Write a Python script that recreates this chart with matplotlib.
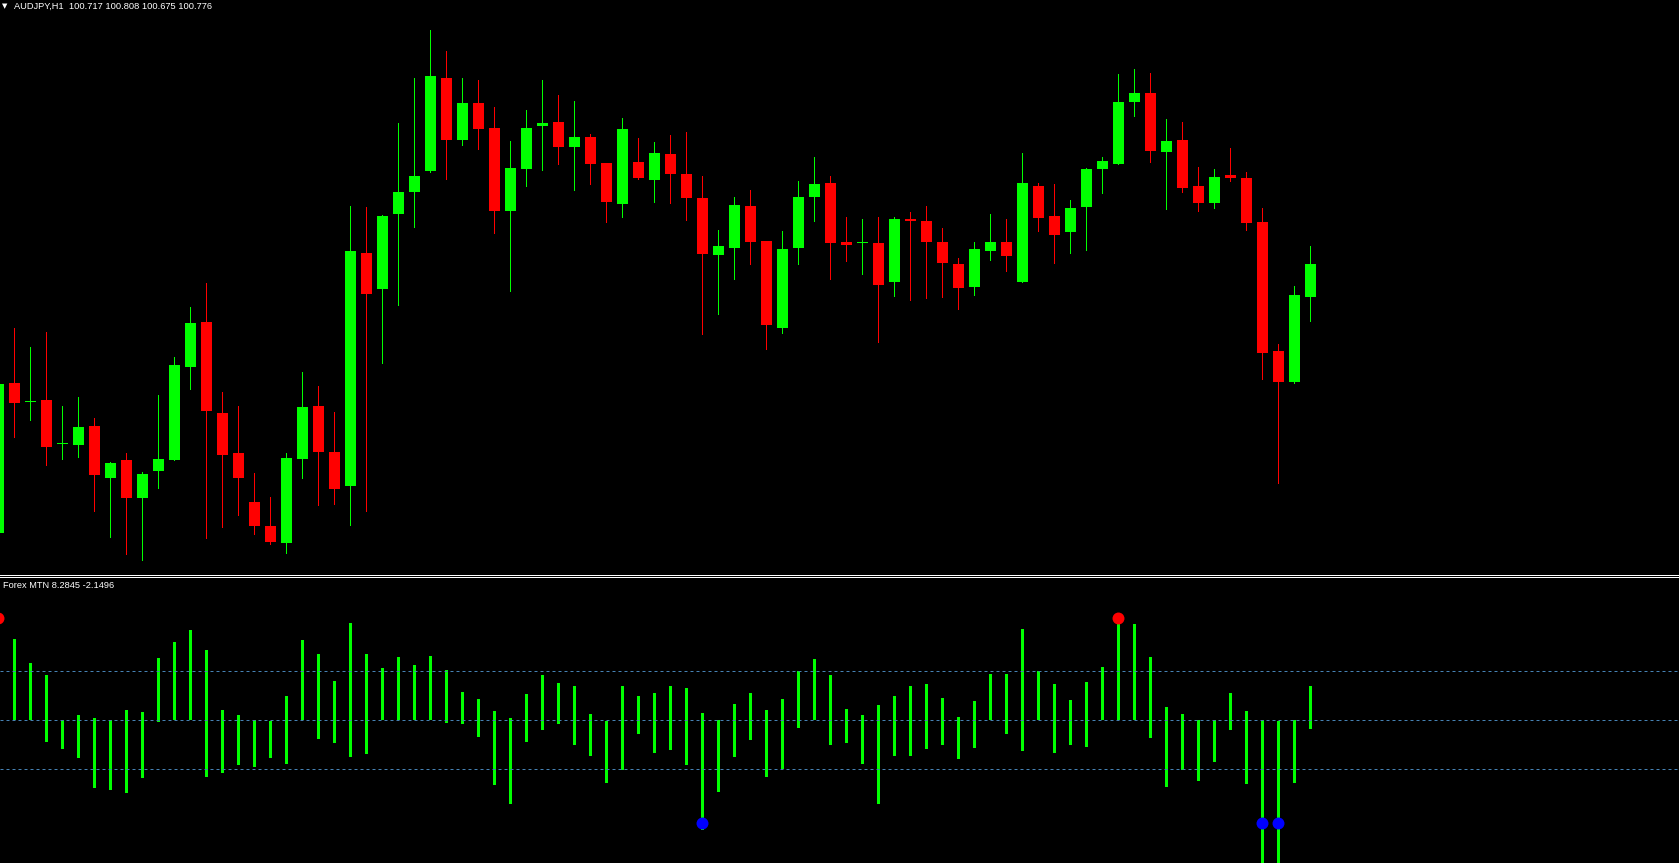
import numpy as np
import matplotlib
matplotlib.use("Agg")
import matplotlib.pyplot as plt
from matplotlib.lines import Line2D

# AUDJPY H1 candles
opens = [100.300, 100.565, 100.532, 100.535, 100.457, 100.455, 100.489, 100.397, 100.429, 100.362,
         100.409, 100.429, 100.593, 100.673, 100.512, 100.441, 100.355, 100.312, 100.282, 100.431,
         100.524, 100.443, 100.383, 100.795, 100.732, 100.865, 100.904, 100.940, 101.105, 100.995,
         101.061, 101.017, 100.870, 100.944, 101.020, 101.027, 100.983, 101.001, 100.955, 100.882,
         100.956, 100.924, 100.970, 100.935, 100.893, 100.792, 100.804, 100.878, 100.817, 100.663,
         100.804, 100.894, 100.919, 100.815, 100.814, 100.813, 100.744, 100.855, 100.852, 100.815,
         100.776, 100.735, 100.799, 100.815, 100.744, 100.914, 100.861, 100.832, 100.877, 100.944,
         100.953, 101.062, 101.078, 100.974, 100.995, 100.914, 100.884, 100.933, 100.928, 100.850,
         100.622, 100.567, 100.717]
highs = [100.569, 100.663, 100.629, 100.655, 100.524, 100.540, 100.503, 100.425, 100.441, 100.408,
         100.544, 100.611, 100.700, 100.742, 100.549, 100.524, 100.406, 100.363, 100.441, 100.585,
         100.560, 100.514, 100.878, 100.877, 100.862, 101.025, 101.105, 101.190, 101.153, 101.105,
         101.101, 101.054, 100.993, 101.048, 101.101, 101.075, 101.064, 101.006, 100.955, 101.034,
         100.999, 100.992, 101.004, 101.009, 100.931, 100.836, 100.894, 100.907, 100.817, 100.834,
         100.923, 100.965, 100.931, 100.859, 100.855, 100.859, 100.859, 100.868, 100.878, 100.840,
         100.786, 100.815, 100.864, 100.855, 100.972, 100.919, 100.917, 100.889, 100.946, 100.965,
         101.112, 101.121, 101.114, 101.032, 101.027, 100.947, 100.944, 100.981, 100.939, 100.875,
         100.634, 100.737, 100.808]
lows = [100.294, 100.470, 100.500, 100.420, 100.431, 100.434, 100.339, 100.293, 100.263, 100.252,
        100.380, 100.428, 100.555, 100.290, 100.311, 100.332, 100.298, 100.280, 100.264, 100.397,
        100.349, 100.351, 100.314, 100.339, 100.601, 100.703, 100.842, 100.939, 100.926, 100.986,
        100.979, 100.831, 100.728, 100.914, 100.942, 100.953, 100.907, 100.917, 100.850, 100.859,
        100.926, 100.886, 100.884, 100.854, 100.652, 100.687, 100.749, 100.776, 100.625, 100.654,
        100.776, 100.852, 100.749, 100.781, 100.758, 100.638, 100.719, 100.712, 100.716, 100.717,
        100.696, 100.721, 100.783, 100.763, 100.743, 100.834, 100.778, 100.795, 100.801, 100.901,
        100.952, 101.038, 100.956, 100.873, 100.903, 100.870, 100.875, 100.923, 100.836, 100.572,
        100.388, 100.566, 100.675]
closes = [100.563, 100.530, 100.533, 100.452, 100.458, 100.487, 100.402, 100.424, 100.362, 100.404,
          100.431, 100.597, 100.671, 100.516, 100.438, 100.397, 100.312, 100.284, 100.432, 100.523,
          100.443, 100.378, 100.799, 100.723, 100.861, 100.903, 100.931, 101.108, 100.995, 101.061,
          101.015, 100.870, 100.946, 101.017, 101.025, 100.983, 101.001, 100.953, 100.886, 101.015,
          100.928, 100.972, 100.935, 100.893, 100.793, 100.808, 100.880, 100.815, 100.668, 100.802,
          100.894, 100.917, 100.813, 100.809, 100.815, 100.739, 100.855, 100.852, 100.815, 100.778,
          100.733, 100.802, 100.815, 100.790, 100.919, 100.857, 100.827, 100.875, 100.944, 100.958,
          101.062, 101.078, 100.976, 100.993, 100.910, 100.884, 100.930, 100.928, 100.848, 100.618,
          100.567, 100.721, 100.776]

# Forex MTN indicator: each bar spans from mtn_low to mtn_high
mtn_high = [22.0, 19.9, 14.0, 11.1, 0, 1.3, 0.6, 0, 2.5, 2.0,
            15.3, 19.2, 22.1, 17.2, 2.5, 1.3, 0, -0.2, 5.9, 19.6,
            16.2, 9.6, 23.8, 16.2, 12.8, 15.5, 13.5, 15.7, 12.3, 6.9,
            5.2, 2.3, 0.6, 6.4, 11.1, 9.1, 8.4, 1.5, -0.2, 8.4,
            5.9, 6.7, 8.4, 7.9, 1.8, 0, 4.0, 6.7, 2.5, 5.2,
            12.1, 15.0, 11.1, 2.8, 1.3, 3.7, 5.9, 8.4, 8.9, 5.5,
            0.8, 4.7, 11.3, 11.3, 22.4, 12.0, 8.9, 5.0, 9.4, 13.1,
            23.8, 23.6, 15.5, 3.3, 1.5, 0, 0, 6.7, 2.3, 0,
            -0.2, 0, 8.2845]
mtn_low = [0, 0, 0, -5.3, -7.0, -9.2, -16.6, -17.1, -17.8, -14.1,
           -0.4, 0, 0, -13.9, -12.9, -10.9, -11.4, -9.2, -10.7, 0,
           -4.6, -5.6, -9.0, -8.3, 0, 0, 0, 0, -0.7, -0.9,
           -4.1, -15.8, -20.5, -5.3, -2.4, -0.9, -6.0, -8.7, -15.3, -12.2,
           -3.4, -8.0, -7.3, -10.9, -26.8, -17.6, -9.0, -4.8, -13.9, -11.9,
           -1.9, 0, -6.0, -5.6, -10.7, -20.5, -8.7, -8.7, -7.0, -6.0,
           -9.5, -6.8, 0, -3.4, -7.5, 0, -8.0, -6.0, -6.5, 0,
           0, 0, -4.3, -16.3, -12.2, -14.9, -10.2, -2.4, -15.6, -40.0,
           -40.0, -15.4, -2.1496]
sell_signals = [0, 70]
buy_signals = [44, 79, 80]
signal_level = 25
levels = [12, 0, -12]

W, H = 1679, 863
UP, DOWN = "#00ff00", "#ff0000"

fig = plt.figure(figsize=(W / 100, H / 100), dpi=100, facecolor="black")
ax = fig.add_axes([0, 1 - 575 / H, 1, 575 / H])
ax2 = fig.add_axes([0, 0, 1, 286 / H])

x = np.arange(len(opens))
o = np.array(opens)
c = np.array(closes)
cols = [UP if cc >= oo else DOWN for oo, cc in zip(opens, closes)]

# candles
ax.vlines(x, lows, highs, colors=cols, linewidth=0.72, antialiased=False)
body_h = np.maximum(np.abs(c - o), 0.0018)
body_b = np.minimum(o, c) - (body_h - np.abs(c - o)) / 2
ax.bar(x, body_h, bottom=body_b, width=11 / 16, color=cols, linewidth=0, antialiased=False)
ax.set_xlim(0.104, 105.04)
ax.set_ylim(100.2253, 101.243)
ax.set_axis_off()

# indicator window
mh = np.array(mtn_high)
ml = np.array(mtn_low)
for lv in levels:
    ax2.axhline(lv, color="#4682b4", linewidth=0.72, linestyle=(0, (3, 3)))
ax2.bar(x, mh - ml, bottom=ml, width=3 / 16, color=UP, linewidth=0, antialiased=False)
ax2.plot(sell_signals, [signal_level] * len(sell_signals), "o", color=DOWN, markersize=8.6, markeredgewidth=0)
ax2.plot(buy_signals, [-signal_level] * len(buy_signals), "o", color="#0000ff", markersize=8.6, markeredgewidth=0)
ax2.set_xlim(0.104, 105.04)
ax2.set_ylim(-34.89, 35.04)
ax2.set_axis_off()

# window separator
for yy in (574.5, 576.5):
    fig.add_artist(Line2D([0, 1], [1 - yy / H, 1 - yy / H], transform=fig.transFigure,
                          color="white", linewidth=0.72, antialiased=False))

fig.text(4.5 / W, 1 - 6.5 / H, "▼", color="white", fontsize=5, ha="center", va="center",
         family="DejaVu Sans")
fig.text(13.5 / W, 1 - 6.8 / H, "AUDJPY,H1  %.3f %.3f %.3f %.3f" % (opens[-1], highs[-1], lows[-1], closes[-1]),
         color="white", fontsize=6.7, family="Liberation Sans", ha="left", va="center")
fig.text(2.7 / W, 1 - 585.5 / H, "Forex MTN %.4f %.4f" % (mtn_high[-1], mtn_low[-1]),
         color="white", fontsize=6.7, family="Liberation Sans", ha="left", va="center")

fig.savefig("out.png", dpi=100, facecolor="black")
